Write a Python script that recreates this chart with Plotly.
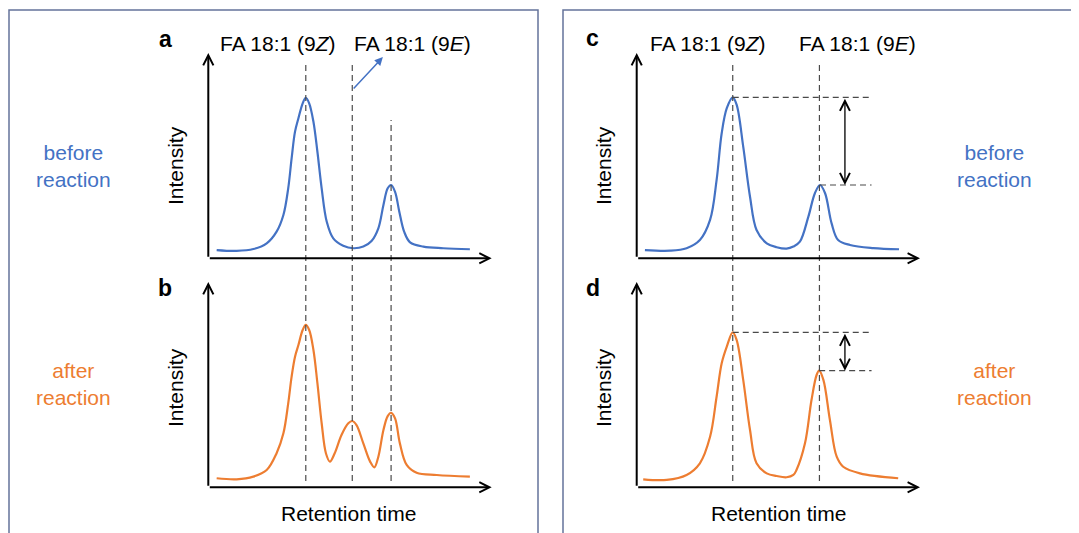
import plotly.graph_objects as go
import numpy as np

# page body has an 8px margin: the figure is placed at (8, 8) in the window
OFF = 8
W, H = 1079 - OFF, 533 - OFF

# ---------------- data (retention time / intensity, arbitrary units) ----------------
# panel a : before reaction (cis peak, trans peak)
rt_a = [2.95, 10.0, 15.9, 20.6, 24.1, 26.5, 28.2, 29.4, 30.6, 31.8, 33.3, 34.4, 35.6, 37.1,
        38.5, 40.0, 41.8, 44.1, 47.6, 51.2, 54.7, 57.6, 60.0, 61.8, 63.3, 64.5, 65.9, 67.4,
        69.1, 71.2, 75.9, 82.9, 92.3]
int_a = [4.0, 3.6, 4.5, 7.3, 13.0, 21.1, 34.1, 48.7, 61.7, 68.2, 75.5, 78.2, 75.5, 66.5,
         51.9, 34.1, 17.8, 9.7, 6.1, 4.9, 5.7, 8.4, 14.6, 26.0, 34.1, 35.7, 32.4, 22.7,
         13.0, 7.8, 5.7, 4.9, 4.4]

# panel b : after reaction (three peaks)
rt_b = [2.95, 10.0, 15.9, 20.6, 24.1, 26.5, 28.2, 29.4, 30.6, 31.8, 33.3, 34.4, 35.6, 37.1,
        38.5, 40.0, 41.5, 42.9, 44.6, 47.0, 49.4, 50.8, 52.3, 54.7, 57.1, 58.6, 60.0, 61.8,
        63.3, 64.5, 65.9, 67.6, 70.0, 73.5, 80.6, 92.3]
int_b = [4.4, 3.9, 5.2, 8.4, 16.6, 26.3, 40.9, 53.9, 63.6, 69.3, 76.6, 79.1, 76.6, 66.9,
         50.7, 31.2, 16.6, 12.5, 16.6, 25.5, 31.2, 32.3, 30.3, 21.4, 12.5, 9.7, 14.9, 27.9,
         34.7, 36.3, 33.6, 21.4, 10.9, 7.1, 6.0, 5.2]

# panel c : before reaction
rt_c = [2.9, 11.8, 17.6, 22.3, 25.9, 28.2, 30.0, 31.8, 33.9, 35.3, 37.6, 40.0, 42.3, 45.9,
        49.4, 52.9, 55.3, 57.6, 60.6, 62.9, 64.7, 66.5, 68.8, 71.1, 75.3, 83.5, 92.6]
int_c = [4.0, 3.7, 4.9, 8.9, 18.7, 38.1, 60.9, 73.1, 78.4, 74.7, 54.4, 30.0, 13.8, 7.3,
         5.4, 4.7, 5.7, 8.1, 20.3, 31.7, 35.7, 31.7, 17.0, 8.9, 6.5, 5.0, 4.4]

# panel d : after reaction
rt_d = [2.3, 10.6, 17.6, 22.3, 25.9, 28.2, 30.0, 31.8, 33.9, 35.3, 37.6, 40.0, 42.3, 45.9,
        49.4, 52.9, 55.3, 56.4, 59.4, 61.7, 63.5, 64.4, 65.9, 68.2, 70.6, 72.9, 78.8, 92.3]
int_d = [3.9, 3.6, 6.0, 11.7, 24.6, 44.1, 60.4, 68.5, 75.5, 71.7, 52.3, 27.9, 11.7, 6.8,
         5.5, 4.9, 6.0, 8.4, 21.4, 42.5, 54.7, 56.8, 52.3, 32.8, 14.9, 10.0, 6.8, 4.4]

# peak retention times marked with dashed lines
peaks_ab = [34.4, 50.8, 64.5]
peaks_cd = [33.9, 64.5]

labels_top = ["FA 18:1 (9<i>Z</i>)", "FA 18:1 (9<i>E</i>)"]
state_labels = ["before<br>reaction", "after<br>reaction"]
x_title = "Retention time"
y_title = "Intensity"

BLUE = "#4472C4"
ORANGE = "#ED7D31"
FONT = "Arial, 'Liberation Sans', sans-serif"
DASH = "6px,4px"
GRAY = "#4a4a4a"


def px_x(p):
    return (p - OFF) / W


def px_y(p):
    return 1 - (p - OFF) / H


fig = go.Figure()

panels = [
    ("x", "y", rt_a, int_a, BLUE),
    ("x2", "y2", rt_b, int_b, ORANGE),
    ("x3", "y3", rt_c, int_c, BLUE),
    ("x4", "y4", rt_d, int_d, ORANGE),
]
for xr, yr, xs, ys, col in panels:
    fig.add_trace(go.Scatter(x=xs, y=ys, mode="lines", xaxis=xr, yaxis=yr,
                             line=dict(color=col, width=2.2, shape="spline", smoothing=1.0),
                             hoverinfo="skip", showlegend=False))

# domains (pixel boxes of the axis frames)
dom_x_left = [px_x(208.3), px_x(491.7)]
dom_x_right = [px_x(636.7), px_x(920.0)]
dom_y_top = [px_y(258.3), px_y(53.0)]
dom_y_bot = [px_y(487.3), px_y(282.0)]

ax_common = dict(range=[0, 100], visible=False, fixedrange=True)
fig.update_layout(
    xaxis=dict(domain=dom_x_left, anchor="y", **ax_common),
    yaxis=dict(domain=dom_y_top, anchor="x", **ax_common),
    xaxis2=dict(domain=dom_x_left, anchor="y2", **ax_common),
    yaxis2=dict(domain=dom_y_bot, anchor="x2", **ax_common),
    xaxis3=dict(domain=dom_x_right, anchor="y3", **ax_common),
    yaxis3=dict(domain=dom_y_top, anchor="x3", **ax_common),
    xaxis4=dict(domain=dom_x_right, anchor="y4", **ax_common),
    yaxis4=dict(domain=dom_y_bot, anchor="x4", **ax_common),
)

shapes = []
annotations = []

# outer frames
FRAME = "#64739a"
shapes.append(dict(type="rect", xref="paper", yref="paper", x0=px_x(9), x1=px_x(538),
                   y0=-0.1, y1=px_y(10), line=dict(color=FRAME, width=1.5)))
shapes.append(dict(type="rect", xref="paper", yref="paper", x0=px_x(563), x1=1.1,
                   y0=-0.1, y1=px_y(10), line=dict(color=FRAME, width=1.5)))

# axis arrows
for xr, yr, *_ in panels:
    for (hx, hy) in [(100, 0), (0, 100)]:
        annotations.append(dict(x=hx, y=hy, ax=0, ay=0, xref=xr, yref=yr, axref=xr, ayref=yr,
                                text="", showarrow=True, arrowhead=5, arrowsize=1.0,
                                arrowwidth=2, arrowcolor="black", standoff=0))

# vertical dashed lines, panels a/b
tops_ab = [65, 65, 120]
for rt, top in zip(peaks_ab, tops_ab):
    shapes.append(dict(type="line", xref="x", yref="paper", x0=rt, x1=rt,
                       y0=px_y(481), y1=px_y(top), line=dict(color=GRAY, width=1.2, dash=DASH)))
# vertical dashed lines, panels c/d
for rt in peaks_cd:
    shapes.append(dict(type="line", xref="x3", yref="paper", x0=rt, x1=rt,
                       y0=px_y(481), y1=px_y(65), line=dict(color=GRAY, width=1.2, dash=DASH)))

# horizontal peak-height guides + double arrows in c and d
H_END = 82.9
ARROW_X = 73.5
for xr, yr, xs, ys in [("x3", "y3", rt_c, int_c), ("x4", "y4", rt_d, int_d)]:
    xs_a = np.array(xs)
    ys_a = np.array(ys)
    hp = []
    for rt in peaks_cd:
        mask = np.abs(xs_a - rt) < 8
        i = np.argmax(np.where(mask, ys_a, -1))
        hp.append((xs_a[i], ys_a[i]))
    for (px_, py_) in hp:
        shapes.append(dict(type="line", xref=xr, yref=yr, x0=px_, x1=H_END, y0=py_, y1=py_,
                           line=dict(color=GRAY, width=1.2, dash=DASH)))
    annotations.append(dict(x=ARROW_X, y=hp[1][1], ax=ARROW_X, ay=hp[0][1], xref=xr, yref=yr,
                            axref=xr, ayref=yr, text="", showarrow=True, arrowside="end+start",
                            arrowhead=5, startarrowhead=5, arrowsize=1.5, startarrowsize=1.5,
                            arrowwidth=1.3, arrowcolor="black", standoff=0, startstandoff=0))

# blue arrow pointing to the trans label in panel a
annotations.append(dict(x=61.6, y=98, ax=peaks_ab[1], ay=82, xref="x", yref="y",
                        axref="x", ayref="y", text="", showarrow=True, arrowhead=2,
                        arrowsize=1.1, arrowwidth=1.5, arrowcolor=BLUE, standoff=0))


def txt(text, x, y, size=21, color="black", angle=0, bold=False):
    t = f"<b>{text}</b>" if bold else text
    annotations.append(dict(text=t, x=px_x(x), y=px_y(y), xref="paper", yref="paper",
                            showarrow=False, xanchor="center", yanchor="middle",
                            textangle=angle, font=dict(family=FONT, size=size, color=color)))


# panel letters
txt("a", 165, 39, size=23, bold=True)
txt("b", 165, 288, size=23, bold=True)
txt("c", 593, 38, size=23, bold=True)
txt("d", 593, 288, size=23, bold=True)

# peak labels
txt(labels_top[0], 278.3, 43.7)
txt(labels_top[1], 412.5, 43.7)
txt(labels_top[0], 707.5, 43.7)
txt(labels_top[1], 857.5, 43.7)

# axis titles
for x, y in [(175, 166), (175, 388), (603, 166), (603, 388)]:
    txt(y_title, x, y, angle=-90)
txt(x_title, 348.3, 513.7)
txt(x_title, 778, 513.5)

# state labels
txt(state_labels[0], 73, 165.5, color=BLUE)
txt(state_labels[1], 73, 383.8, color=ORANGE)
txt(state_labels[0], 994, 165.5, color=BLUE)
txt(state_labels[1], 994, 383.8, color=ORANGE)

fig.update_layout(
    width=W, height=H, autosize=False,
    margin=dict(l=0, r=0, t=0, b=0),
    paper_bgcolor="white", plot_bgcolor="white",
    shapes=shapes, annotations=annotations,
    showlegend=False,
    font=dict(family=FONT),
)

fig.write_html("out.html", config=dict(displayModeBar=False))
